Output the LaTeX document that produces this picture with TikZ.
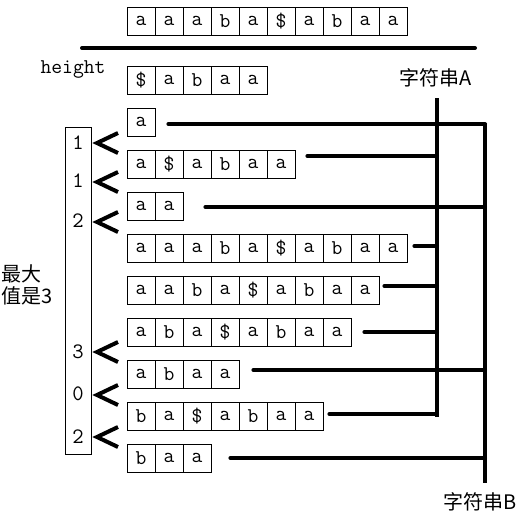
\documentclass[tikz,border=0pt]{standalone}
\usepackage{fontspec}
\newfontfamily\cjk{Noto Sans CJK SC}
\usetikzlibrary{positioning}

\begin{document}
\begin{tikzpicture}[
    x=1pt, y=-1pt,
    cell/.style={
        draw=black,
        line width=0.8pt,
        minimum width=28pt,
        minimum height=28pt,
        inner sep=0pt,
        font=\fontsize{21}{21}\ttfamily
    },
    hnum/.style={inner sep=0pt, font=\fontsize{22}{22}\ttfamily},
    lbl/.style={inner sep=0pt, align=left, font=\fontsize{20}{22}\cjk},
    bus/.style={line width=4pt},
    link/.style={line width=4pt, line cap=round},
    chev/.style={line width=4pt},
]
\useasboundingbox (0,0) rectangle (524,519);

% text string on top
\foreach \c [count=\j from 0] in {a,a,a,b,a,\$,a,b,a,a}
    \node[cell] (top-\j) at (141+28*\j, 21) {\c};

\coordinate (rule-l) at (82,48);
\coordinate (rule-r) at (475,48);
\draw[link] (rule-l) -- (rule-r);

\node[inner sep=0pt, font=\fontsize{21}{21}\ttfamily] (height) at (73,69) {height};

% sorted suffixes
\foreach \i/\str in {0/{\$,a,b,a,a}, 1/{a}, 2/{a,\$,a,b,a,a}, 3/{a,a},
        4/{a,a,a,b,a,\$,a,b,a,a}, 5/{a,a,b,a,\$,a,b,a,a},
        6/{a,b,a,\$,a,b,a,a}, 7/{a,b,a,a}, 8/{b,a,\$,a,b,a,a}, 9/{b,a,a}}{
    \foreach \c [count=\j from 0] in \str
        \node[cell] (r\i-\j) at (141+28*\j, 80+42*\i) {\c};
}

% height column
\node[draw=black, line width=0.8pt, minimum width=26pt, minimum height=327pt,
    inner sep=0pt] (hcol) at (78,290.5) {};
\foreach \v/\y in {1/143, 1/181, 2/221, 3/352, 0/394, 2/437}
    \node[hnum] (h-\y) at (78,\y) {\v};

% markers between neighbours
\foreach \y in {143, 182, 222, 352, 395, 437}
    \draw[chev] (118,\y-10) -- (97,\y) -- (118,\y+10);

\node[lbl, anchor=west] (maxnote) at (1,285) {最大\\值是3};

% string A and string B
\coordinate (busA-top) at (437,98);
\coordinate (busA-bot) at (437,417);
\coordinate (busB-top) at (485,123);
\coordinate (busB-bot) at (485,483);
\draw[bus] (busA-top) -- (busA-bot);
\draw[bus] (busB-top) -- (busB-bot);

\node[lbl] (nameA) at (436,78) {字符串A};
\node[lbl] (nameB) at (480,502) {字符串B};

% links to B
\draw[link] ([xshift=13pt, yshift=-2pt]r1-0.east) -- ([yshift=-2pt]r1-0.east -| busB-top);
\draw[link] ([xshift=22pt, yshift=-1pt]r3-1.east) -- ([yshift=-1pt]r3-1.east -| busB-top);
\draw[link] ([xshift=14pt, yshift=4pt]r7-3.east) -- ([yshift=4pt]r7-3.east -| busB-top);
\draw[link] ([xshift=19pt]r9-2.east) -- (r9-2.east -| busB-top);

% links to A
\draw[link] ([xshift=12pt, yshift=8pt]r2-5.east) -- ([yshift=8pt]r2-5.east -| busA-top);
\draw[link] ([xshift=7pt, yshift=2pt]r4-9.east) -- ([yshift=2pt]r4-9.east -| busA-top);
\draw[link] ([xshift=5pt, yshift=4pt]r5-8.east) -- ([yshift=4pt]r5-8.east -| busA-top);
\draw[link] ([xshift=13pt]r6-7.east) -- (r6-7.east -| busA-top);
\draw[link] ([xshift=6pt, yshift=2pt]r8-6.east) -- ([yshift=2pt]r8-6.east -| busA-top);

\end{tikzpicture}
\end{document}
